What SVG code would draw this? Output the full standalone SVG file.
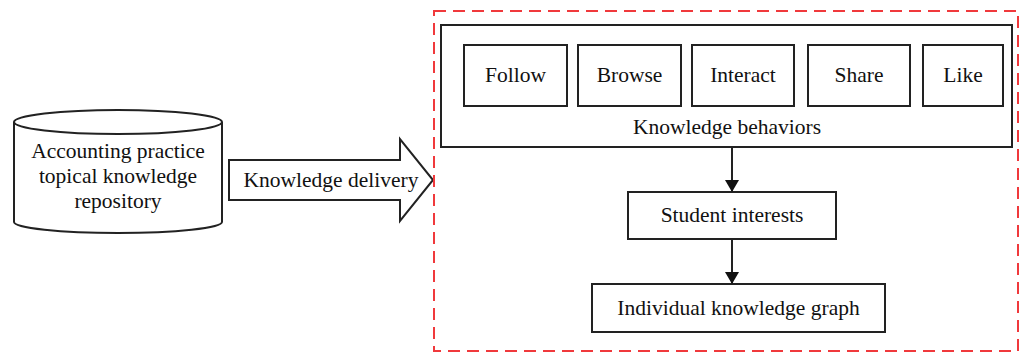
<svg xmlns="http://www.w3.org/2000/svg" width="1022" height="356" viewBox="0 0 1022 356">
<defs>
<style>
.box{fill:#fff;stroke:#222;stroke-width:2}
.t{font-family:"Liberation Serif","Times New Roman",serif;font-size:21.5px;fill:#111;text-anchor:middle}
.ln{stroke:#222;stroke-width:2;fill:none}
</style>
<marker id="ah" viewBox="0 0 12 14" refX="12" refY="7" markerWidth="12" markerHeight="14" markerUnits="userSpaceOnUse" orient="auto">
<path d="M0,0 L12,7 L0,14 Z" fill="#111"/>
</marker>
</defs>
<rect width="1022" height="356" fill="#fff"/>
<g id="repository">
<path class="box" d="M14,122 L14,222 A104,11 0 0 0 222,222 L222,122"/>
<ellipse class="box" cx="118" cy="122" rx="104" ry="12"/>
<text class="t" x="118" y="158">Accounting practice</text>
<text class="t" x="118" y="183">topical knowledge</text>
<text class="t" x="118" y="208">repository</text>
</g>
<g id="delivery">
<path class="box" d="M229,160 L400,160 L400,139 L433,180 L400,221 L400,200 L229,200 Z"/>
<text class="t" x="331" y="187">Knowledge delivery</text>
</g>
<g id="scope">
<rect x="434" y="11" width="584" height="340" fill="none" stroke="#f0393c" stroke-width="2" stroke-dasharray="12 7"/>
</g>
<g id="behaviors">
<rect class="box" x="441" y="25" width="571" height="122"/>
<text class="t" x="727" y="134">Knowledge behaviors</text>
</g>
<g id="follow"><rect class="box" x="464" y="45" width="103" height="61"/><text class="t" x="515.5" y="82">Follow</text></g>
<g id="browse"><rect class="box" x="578" y="45" width="103" height="61"/><text class="t" x="629.5" y="82">Browse</text></g>
<g id="interact"><rect class="box" x="692" y="45" width="102" height="61"/><text class="t" x="743" y="82">Interact</text></g>
<g id="share"><rect class="box" x="808" y="45" width="102" height="61"/><text class="t" x="859" y="82">Share</text></g>
<g id="like"><rect class="box" x="923" y="45" width="80" height="61"/><text class="t" x="963" y="82">Like</text></g>
<g id="interests"><rect class="box" x="628" y="192" width="208" height="47"/><text class="t" x="732" y="222">Student interests</text></g>
<g id="graph"><rect class="box" x="592" y="284" width="293" height="48"/><text class="t" x="738.5" y="315">Individual knowledge graph</text></g>
<g id="connectors">
<line class="ln" x1="732" y1="147" x2="732" y2="192" marker-end="url(#ah)"/>
<line class="ln" x1="732" y1="239" x2="732" y2="284" marker-end="url(#ah)"/>
</g>
</svg>
